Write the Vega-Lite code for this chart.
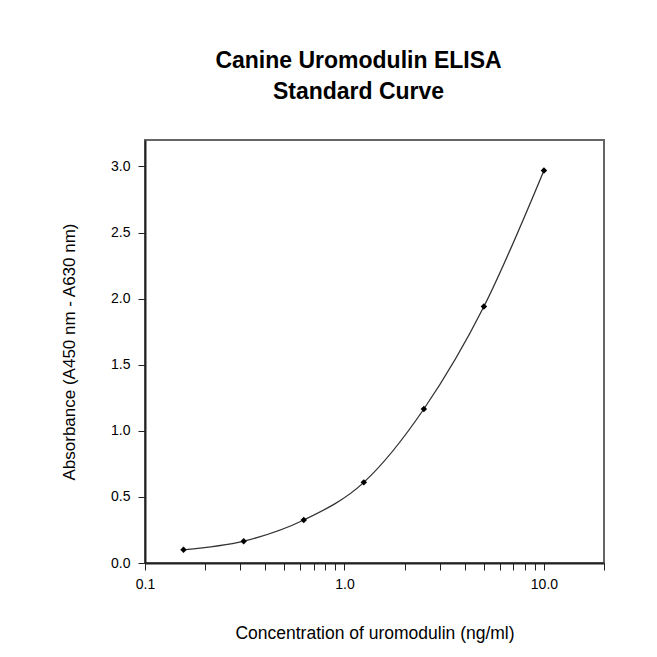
{
  "$schema": "https://vega.github.io/schema/vega-lite/v6.json",
  "autosize": {"type": "none"},
  "padding": {"left": 145, "top": 140, "right": 53, "bottom": 94},
  "width": 459,
  "height": 423,
  "background": "white",
  "title": {
    "text": ["Canine Uromodulin ELISA", "Standard Curve"],
    "font": "Liberation Sans",
    "fontSize": 23,
    "fontWeight": "bold",
    "lineHeight": 31,
    "color": "black",
    "anchor": "middle",
    "dx": -16,
    "offset": 36
  },
  "data": {
    "values": [
      {"conc": 0.156, "abs": 0.10},
      {"conc": 0.3125, "abs": 0.165},
      {"conc": 0.625, "abs": 0.325},
      {"conc": 1.25, "abs": 0.61},
      {"conc": 2.5, "abs": 1.165},
      {"conc": 5, "abs": 1.94},
      {"conc": 10, "abs": 2.97}
    ]
  },
  "encoding": {
    "x": {
      "field": "conc",
      "type": "quantitative",
      "scale": {"type": "log", "domain": [0.1, 20], "nice": false},
      "axis": {
        "title": "Concentration of uromodulin (ng/ml)",
        "values": [0.1, 0.2, 0.3, 0.4, 0.5, 0.6, 0.7, 0.8, 0.9, 1, 2, 3, 4, 5, 6, 7, 8, 9, 10, 20],
        "labelExpr": "indexof([0.1, 1, 10], datum.value) >= 0 ? format(datum.value, '.1f') : ''",
        "labelFlush": false,
        "labelPadding": 7,
        "titlePadding": 33
      }
    },
    "y": {
      "field": "abs",
      "type": "quantitative",
      "scale": {"domain": [0, 3.2], "nice": false, "zero": true},
      "axis": {
        "title": "Absorbance (A450 nm - A630 nm)",
        "values": [0, 0.5, 1, 1.5, 2, 2.5, 3],
        "format": ".1f",
        "labelPadding": 8,
        "titlePadding": 32,
        "titleFontSize": 17
      }
    }
  },
  "layer": [
    {
      "mark": {"type": "line", "interpolate": "monotone", "color": "#333333", "strokeWidth": 1.3}
    },
    {
      "mark": {"type": "point", "shape": "diamond", "filled": true, "color": "black", "size": 42, "opacity": 1}
    }
  ],
  "config": {
    "view": {"stroke": "#666666", "strokeWidth": 2},
    "axis": {
      "grid": false,
      "domainColor": "#222222",
      "domainWidth": 2,
      "tickColor": "#222222",
      "tickSize": 7,
      "tickWidth": 1,
      "labelFont": "Liberation Sans",
      "labelFontSize": 14,
      "labelColor": "black",
      "titleFont": "Liberation Sans",
      "titleFontSize": 17.5,
      "titleFontWeight": "normal",
      "titleColor": "black"
    }
  }
}
